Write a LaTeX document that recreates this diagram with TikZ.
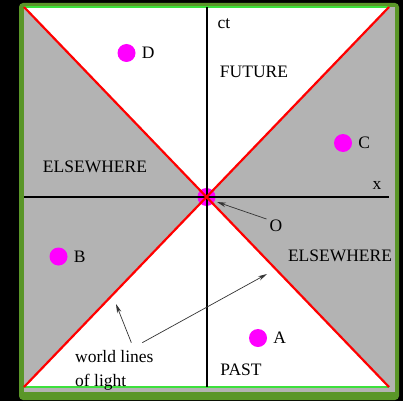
\documentclass[tikz,border=0pt]{standalone}
\usepackage{fontspec}
\setmainfont{Liberation Serif}
\usetikzlibrary{arrows.meta,positioning}
\definecolor{framegreen}{RGB}{90,150,40}
\definecolor{edgegreen}{RGB}{60,225,60}
\definecolor{conegray}{RGB}{179,179,179}
\definecolor{eventpink}{RGB}{255,0,255}
\tikzset{event/.style={circle, fill=eventpink, minimum size=18pt, inner sep=0pt},
  lightline/.style={red, line width=2.2pt},
  axis/.style={black, line width=2pt},
  pointer/.style={black!80, line width=0.7pt, -{Stealth[length=9pt, width=4.5pt]}},
  tag/.style={inner sep=0pt, font=\fontsize{17.5}{20}\selectfont}}

\begin{document}
\begin{tikzpicture}[x=1pt, y=-1pt]
  \useasboundingbox (0,0) rectangle (403,401);
  \fill[black] (0,0) rectangle (403,401);
  \fill[framegreen, rounded corners=4pt] (19,3) rectangle (399,400);
  \fill[conegray] (24,7) rectangle (395,392);
  % corners of the diagram and origin
  \coordinate (tl) at (24,7);
  \coordinate (tr) at (389,7);
  \coordinate (bl) at (24,387);
  \coordinate (br) at (389,387);
  \coordinate (o) at (206.5,197);
  % future and past
  \fill[white] (tl) -- (tr) -- (o) -- cycle;
  \fill[white] (bl) -- (br) -- (o) -- cycle;
  \draw[edgegreen, line width=1.5pt] (tl) -- (tr);
  \draw[edgegreen, line width=1.5pt] (bl) -- (br);
  % events
  \node[event] (O) at (o) {};
  \node[event] (D) at (126.5,53) {};
  \node[event] (C) at (343,143) {};
  \node[event] (B) at (58.5,256.5) {};
  \node[event] (A) at (258,338) {};
  % axes
  \draw[axis] (206.5,7) -- (206.5,387);
  \draw[axis] (24,197) -- (389,197);
  % light lines
  \draw[lightline] (tl) -- (br);
  \draw[lightline] (bl) -- (tr);
  % labels
  \node[tag, right=6pt of D] (Dlbl) {D};
  \node[tag, right=6pt of C] (Clbl) {C};
  \node[tag, right=6pt of B] (Blbl) {B};
  \node[tag, right=6pt of A] (Albl) {A};
  \node[tag] (ct) at (224,24) {ct};
  \node[tag] (xlbl) at (377,185) {x};
  \node[tag] (future) at (254,72) {FUTURE};
  \node[tag] (past) at (241,370) {PAST};
  \node[tag] (elsel) at (95,167) {ELSEWHERE};
  \node[tag] (elser) at (340,256) {ELSEWHERE};
  \node[tag] (Olbl) at (276,226) {O};
  \node[tag, anchor=west] (wl) at (75,357) {world lines};
  \node[tag, anchor=west] (ol) at (75,382) {of light};
  % pointers
  \coordinate (tipO) at (217,202);
  \coordinate (tipL) at (116,304);
  \coordinate (tipR) at (267,274);
  \draw[pointer] ([shift={(-3,-7)}]Olbl.west) -- (tipO);
  \draw[pointer] ([shift={(17,-8)}]wl.north) -- (tipL);
  \draw[pointer] ([shift={(28,-8)}]wl.north) -- (tipR);
\end{tikzpicture}
\end{document}
